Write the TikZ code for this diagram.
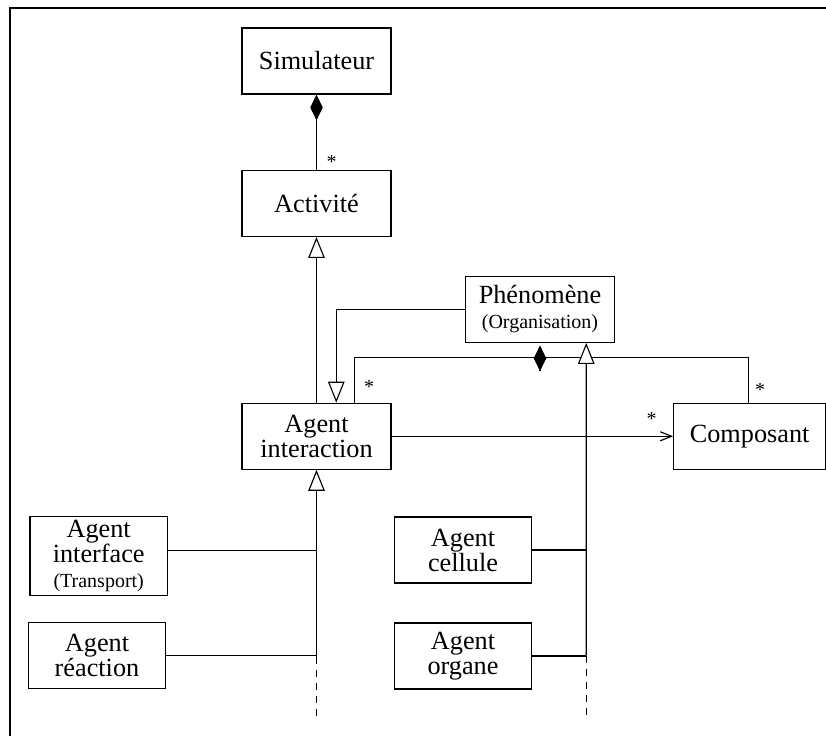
\documentclass[tikz,border=0pt]{standalone}
\usepackage{fontspec}
\setmainfont{Liberation Serif}
\usetikzlibrary{arrows.meta,positioning}
\tikzset{
  classbox/.style={rectangle, draw, line width=0.45pt, minimum width=59.6pt,
    minimum height=26.4pt, align=center, inner sep=1pt,
    font=\fontsize{10.5}{10}\selectfont},
  smallbox/.style={classbox, minimum width=55pt},
  genlink/.style={-{Triangle[length=8.4pt,width=6.6pt,fill=white]}, line width=0.45pt},
  complink/.style={{Diamond[length=10.3pt,width=5pt]}-, line width=0.45pt},
  navlink/.style={-{Straight Barb[length=4.5pt,width=3.6pt]}, line width=0.45pt},
  plainlink/.style={line width=0.45pt},
  openlink/.style={line width=0.45pt, dash pattern=on 2.8pt off 2.4pt},
  mult/.style={font=\fontsize{8}{9}\selectfont, inner sep=0pt},
}
\newcommand{\subtxt}[1]{{\fontsize{8}{9}\selectfont #1}}

\begin{document}
\begin{tikzpicture}[x=0.4pt, y=-0.4pt]
\useasboundingbox (0,0) rectangle (826,736);
\draw[line width=0.6pt] (10,736) -- (10,8) -- (826,8);

\node[classbox] (sim) at (316.5,61) {Simulateur};
\node[classbox, below=30.1pt of sim] (act) {Activité};
\node[classbox, below=66.3pt of act] (inter) {Agent\\interaction};
\node[classbox] (phen) at (540,309.3) {Phénomène\\\subtxt{(Organisation)}};
\node[classbox, minimum width=60.8pt, right=112.6pt of inter] (comp) {Composant};
\node[smallbox, minimum height=31.6pt] (iface) at (98.7,556.3) {Agent\\interface\\\subtxt{(Transport)}};
\node[smallbox] (react) at (97,655.3) {Agent\\réaction};
\node[smallbox] (cell) at (463,550) {Agent\\cellule};
\node[smallbox] (organ) at (463,656) {Agent\\organe};

\coordinate (lend) at (316.5,656.7);
\coordinate (lbot) at (316.5,716.7);
\coordinate (rend) at (586.3,655.7);
\coordinate (rbot) at (586.3,715);
\coordinate (bar) at (354.3,357.7);

% simulateur / activite
\draw[complink] (sim) -- (act);
\node[mult] (m1) at (331.7,162) {*};
\draw[genlink] (inter) -- (act);

% phenomene
\draw[genlink] (phen.west) -| ([xshift=7.9pt]inter.north);
\draw[plainlink] ([xshift=15.2pt]inter.north) |- (bar) -| ([xshift=-0.4pt]comp.north);
\draw[complink] ([yshift=-1pt]phen.south) -- ++(0,-10.3pt);
\node[mult] (m2) at (369,386.7) {*};
\node[mult] (m3) at (760,390) {*};

% composant
\draw[navlink] (inter) -- (comp);
\node[mult] (m4) at (651.7,419) {*};

% sous-classes interaction
\draw[genlink] (lend) -- (inter.south);
\draw[openlink] (lend) -- (lbot);
\draw[plainlink] ([yshift=2.5pt]iface.east) -- ([yshift=2.5pt]iface.east -| lend);
\draw[plainlink] (react.east) -- (react.east -| lend);

% sous-classes phenomene
\draw[genlink] (rend) -- ([xshift=18.5pt]phen.south);
\draw[openlink] (rend) -- (rbot);
\draw[plainlink] (cell.east) -- (cell.east -| rend);
\draw[plainlink] (organ.east) -- (organ.east -| rend);
\end{tikzpicture}
\end{document}
